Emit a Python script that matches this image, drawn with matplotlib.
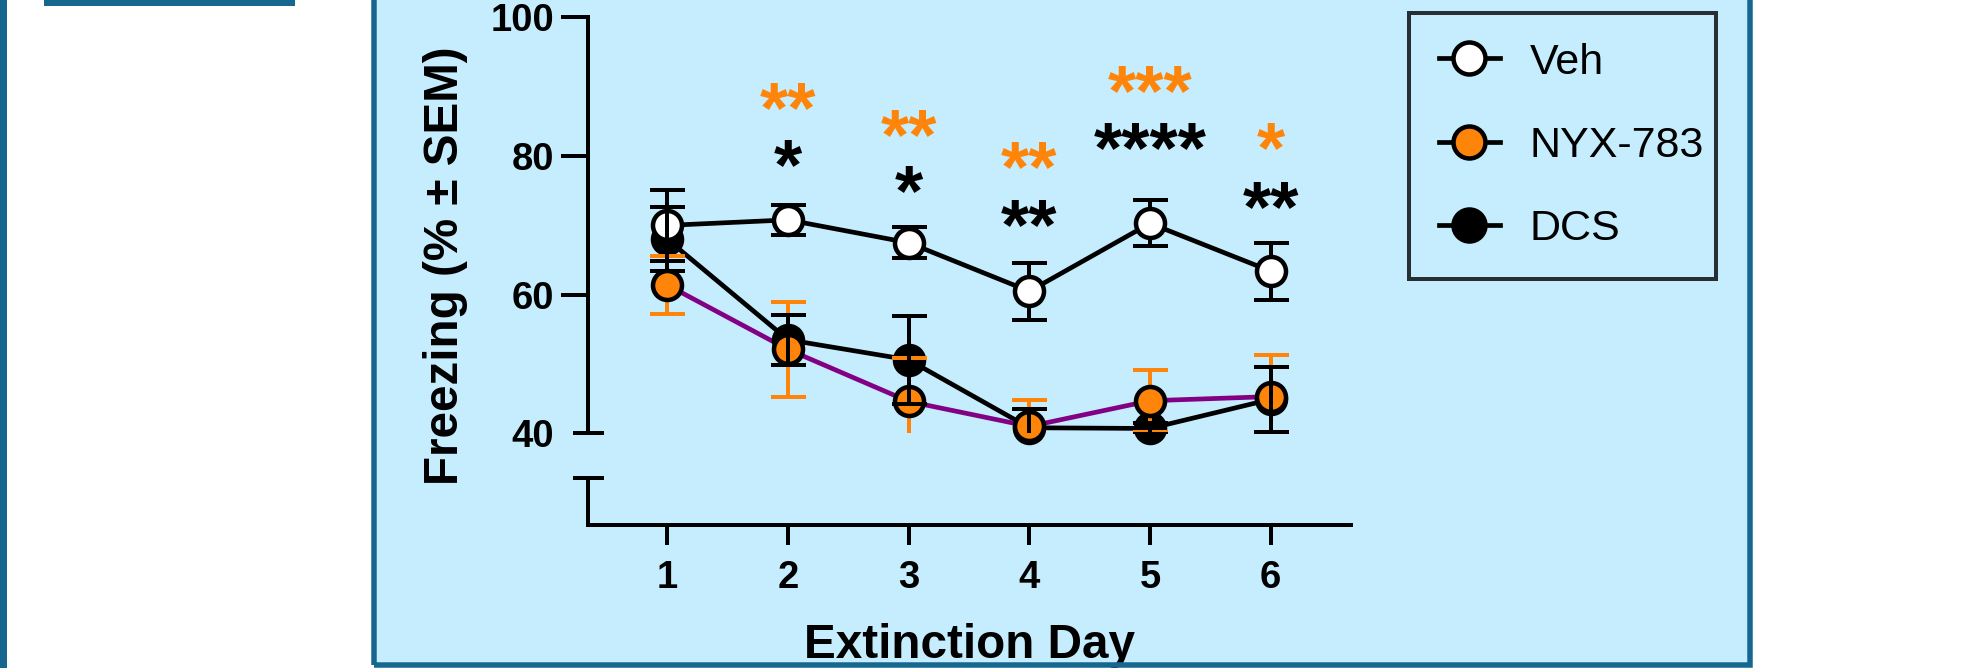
import matplotlib
matplotlib.use("Agg")
import matplotlib.pyplot as plt
from matplotlib.patches import Rectangle
from matplotlib.lines import Line2D
from matplotlib import transforms as mtransforms
from matplotlib import font_manager

# ---------------- data ----------------
days = [1, 2, 3, 4, 5, 6]
xtick_labels = ["1", "2", "3", "4", "5", "6"]
ytick_values = [40, 60, 80, 100]
ytick_labels = ["40", "60", "80", "100"]

series_labels = ["Veh", "NYX-783", "DCS"]
veh_mean = [70.0, 70.8, 67.5, 60.5, 70.3, 63.4]
veh_sem = [5.1, 2.2, 2.2, 4.1, 3.3, 4.1]
nyx_mean = [61.4, 52.1, 44.6, 41.0, 44.7, 45.3]
nyx_sem = [4.2, 6.9, 6.2, 3.8, 4.5, 6.0]
dcs_mean = [68.0, 53.5, 50.6, 40.8, 40.7, 44.9]
dcs_sem = [4.6, 3.6, 6.3, 2.7, 0.8, 4.7]

# significance marks (NYX-783 vs Veh in orange, DCS vs Veh in black)
nyx_star_days = [2, 3, 4, 5, 6]
nyx_star_text = ["**", "**", "**", "***", "*"]
nyx_star_y = [88.7, 84.8, 80.2, 91.2, 82.9]
dcs_star_days = [2, 3, 4, 5, 6]
dcs_star_text = ["*", "*", "**", "****", "**"]
dcs_star_y = [80.5, 76.7, 71.9, 82.9, 74.5]

y_break_low = 33.5
y_axis_bottom = 26.77

# ---------------- style ----------------
W, H, DPI = 1962, 668, 100
PT = 72.0 / DPI  # points per pixel

ORANGE = "#FF850A"
PURPLE = "#820084"
BG = "#C5EDFD"
DARK = "#166790"
FONT = "Liberation Sans"

names = {f.name for f in font_manager.fontManager.ttflist}
if "Liberation Sans Narrow" in names:
    LEG_FONT, LEG_SIZE = "Liberation Sans Narrow", 35
else:
    LEG_FONT, LEG_SIZE = "Liberation Sans", 31

plt.rcParams["font.family"] = [FONT, "DejaVu Sans"]

fig = plt.figure(figsize=(W / DPI, H / DPI), dpi=DPI)
fig.patch.set_facecolor("white")

def px_rect(x0, y0, x1, y1, **kw):
    """rectangle given in pixel coords (top-left origin)"""
    return Rectangle((x0 / W, 1 - y1 / H), (x1 - x0) / W, (y1 - y0) / H,
                     transform=fig.transFigure, **kw)

# page decorations
fig.patches.append(px_rect(374, -20, 1750, 665, facecolor=BG, edgecolor="none", zorder=-5))
fig.patches.append(px_rect(374, -20, 1750, 665, facecolor="none", edgecolor=DARK,
                           linewidth=5.5 * PT, zorder=20))
fig.patches.append(px_rect(0, 0, 6.6, 668, facecolor=DARK, edgecolor="none", zorder=20))
fig.patches.append(px_rect(44, -2, 295, 6.4, facecolor=DARK, edgecolor="none", zorder=20))

# axes
ax_l, ax_r, ax_t, ax_b = 588, 1351, 17.5, 525
ax = fig.add_axes([ax_l / W, 1 - ax_b / H, (ax_r - ax_l) / W, (ax_b - ax_t) / H])
ax.patch.set_visible(False)
ax.set_xlim(0.343, 6.665)
ax.set_ylim(y_axis_bottom, 100)

for s in ("top", "right"):
    ax.spines[s].set_visible(False)
lw_axis = 4 * PT
ax.spines["left"].set_linewidth(lw_axis)
ax.spines["bottom"].set_linewidth(lw_axis)
ax.spines["left"].set_bounds(ytick_values[0], ytick_values[-1])
ax.spines["bottom"].set_capstyle("projecting")

blend = mtransforms.blended_transform_factory(ax.transAxes, ax.transData)
# lower segment of broken y axis
ax.plot([0, 0], [y_axis_bottom, y_break_low], color="black", lw=lw_axis,
        transform=blend, clip_on=False, solid_capstyle="projecting", zorder=3)
# break caps
ax.plot([0, 0], [ytick_values[0], y_break_low], linestyle="none", marker="_",
        markersize=31 * PT, markeredgewidth=lw_axis, color="black",
        transform=blend, clip_on=False, zorder=3)

# ticks
tick_font = dict(family=FONT, weight="bold", size=27.5)
ax.set_xticks(days)
ax.set_xticklabels(xtick_labels, fontdict=tick_font)
ax.set_yticks(ytick_values[1:])
ax.set_yticklabels(ytick_labels[1:], fontdict=tick_font)
ax.set_yticks(ytick_values[:1], minor=True)
ax.set_yticklabels(ytick_labels[:1], minor=True, fontdict=tick_font)
ax.tick_params(axis="x", length=20 * PT, width=lw_axis, pad=10.5, direction="out")
ax.tick_params(axis="y", which="both", length=27 * PT, width=lw_axis, pad=5, direction="out")
ax.tick_params(axis="y", which="minor", color=(0, 0, 0, 0))

# axis labels
ax.set_ylabel("Freezing (% \u00b1 SEM)", family=FONT, weight="bold", size=34.3)
ax.yaxis.label.set_verticalalignment("center")
ax.yaxis.set_label_coords((446 - ax_l) / (ax_r - ax_l), (ax_b - 266) / (ax_b - ax_t))
ax.set_xlabel("Extinction Day", family=FONT, weight="bold", size=34.3)
ax.xaxis.label.set_verticalalignment("baseline")
ax.xaxis.set_label_coords(0.5, (ax_b - 658) / (ax_b - ax_t))

# error bar clip region: nothing below the axis break
clip_bbox = mtransforms.TransformedBbox(
    mtransforms.Bbox([[0, ytick_values[0]], [1, 1000]]), blend)

ms = 29 * PT
mew = 4.5 * PT
line_w = 4.7 * PT
cap = 17.5 * PT
elw = 4 * PT

def err(mean, sem, color, z):
    c = ax.errorbar(days, mean, yerr=sem, fmt="none", ecolor=color, elinewidth=elw,
                    capsize=cap, capthick=elw, zorder=z)
    for a in list(c[1]) + list(c[2]):
        a.set_clip_box(clip_bbox)
        a.set_clip_on(True)

# connecting lines
ax.plot(days, veh_mean, color="black", lw=line_w, zorder=2)
ax.plot(days, dcs_mean, color="black", lw=line_w, zorder=2)
ax.plot(days, nyx_mean, color=PURPLE, lw=line_w, zorder=2.1)

# error bars + markers in stacking order
err(veh_mean, veh_sem, "black", 3)
ax.plot(days, dcs_mean, linestyle="none", marker="o", ms=ms, mfc="black", mec="black",
        mew=mew, zorder=4, clip_on=False)
err(nyx_mean, nyx_sem, ORANGE, 4.5)
ax.plot(days, nyx_mean, linestyle="none", marker="o", ms=ms, mfc=ORANGE, mec="black",
        mew=mew, zorder=5, clip_on=False)
ax.plot(days, veh_mean, linestyle="none", marker="o", ms=ms, mfc="white", mec="black",
        mew=mew, zorder=5.5, clip_on=False)
err(dcs_mean, dcs_sem, "black", 6)

# significance stars
star_size = 52
star_off = -0.573 * star_size + 5 * PT  # baseline below glyph centre
for d, t, y in zip(nyx_star_days, nyx_star_text, nyx_star_y):
    ax.annotate(t, xy=(d, y), xytext=(0, star_off), textcoords="offset points",
                ha="center", va="baseline", color=ORANGE, family=FONT,
                weight="bold", size=star_size, zorder=7)
for d, t, y in zip(dcs_star_days, dcs_star_text, dcs_star_y):
    ax.annotate(t, xy=(d, y), xytext=(0, star_off), textcoords="offset points",
                ha="center", va="baseline", color="black", family=FONT,
                weight="bold", size=star_size, zorder=7)

# legend
leg_ms = 32 * PT
handles = [
    Line2D([], [], color="black", lw=line_w, marker="o", ms=leg_ms, mfc="white", mec="black", mew=mew),
    Line2D([], [], color="black", lw=line_w, marker="o", ms=leg_ms, mfc=ORANGE, mec="black", mew=mew),
    Line2D([], [], color="black", lw=line_w, marker="o", ms=leg_ms, mfc="black", mec="black", mew=mew),
]
f_px = LEG_SIZE / PT
row_h = 0.924 * f_px
lx0, lx1, ly0, ly1 = 1409, 1716, 12.8, 278
ls_px = 83 - row_h
bp_px = ((ly1 - ly0) - 3 * row_h - 2 * ls_px) / 2
leg = fig.legend(handles, series_labels, loc="upper left",
                 bbox_to_anchor=(lx0 / W, 1 - ly1 / H, (lx1 - lx0) / W, (ly1 - ly0) / H),
                 bbox_transform=fig.transFigure, mode="expand", borderaxespad=0,
                 prop=dict(family=LEG_FONT, size=LEG_SIZE), fancybox=False,
                 frameon=True, edgecolor="black", facecolor="none",
                 borderpad=bp_px / f_px, labelspacing=ls_px / f_px,
                 handlelength=61.5 / f_px, handletextpad=29.5 / f_px, numpoints=1)
leg.get_frame().set_linewidth(4 * PT)
leg.set_zorder(8)

fig.savefig("out.png", dpi=DPI, facecolor="white")
